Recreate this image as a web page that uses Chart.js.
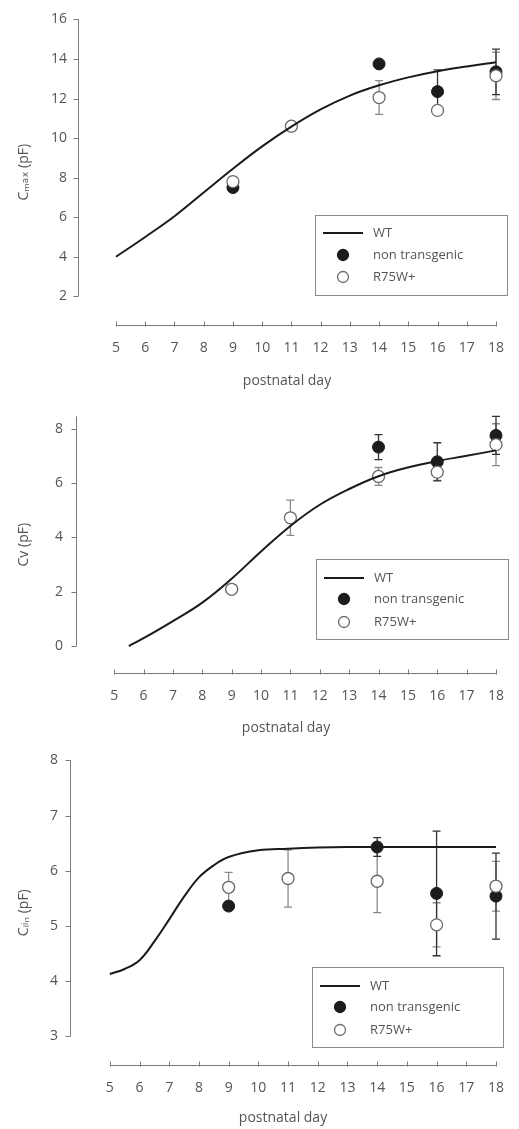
<!DOCTYPE html>
<html><head><meta charset="utf-8">
<script src="https://cdn.jsdelivr.net/npm/chart.js@4.4.0/dist/chart.umd.min.js"></script>
<style>
html,body{margin:0;padding:0;background:#fff;width:519px;height:1129px;overflow:hidden}
.p{position:absolute;left:0;width:519px}
canvas{display:block}
</style></head><body>
<div class="p" style="top:0"><canvas id="c1" width="519" height="395"></canvas></div>
<div class="p" style="top:395px"><canvas id="c2" width="519" height="345"></canvas></div>
<div class="p" style="top:740px"><canvas id="c3" width="519" height="389"></canvas></div>
<script>
// ---------- data ----------
const dayTicks = [5,6,7,8,9,10,11,12,13,14,15,16,17,18];
const cmaxTicks = [2,4,6,8,10,12,14,16];
const cvTicks = [0,2,4,6,8];
const clinTicks = [3,4,5,6,7,8];
const legendLabels = ['WT','non transgenic','R75W+'];
const xTitle = 'postnatal day';

// Panel 1: Cmax
const cmaxWtDays = [5,6,7,8,9,10,11,12,13,14,15,16,17,18];
const cmaxWt     = [4.0,5.0,6.05,7.25,8.45,9.58,10.58,11.45,12.15,12.67,13.07,13.38,13.62,13.83];
const cmaxNtDays = [9,14,16,18];
const cmaxNt     = [7.5,13.75,12.35,13.35];
const cmaxNtErr  = [0.1,0.15,1.1,1.15];
const cmaxRDays  = [9,11,14,16,18];
const cmaxR      = [7.8,10.6,12.05,11.4,13.15];
const cmaxRErr   = [0.25,0.1,0.85,0.15,1.2];

// Panel 2: Cv
const cvWtDays = [5.5,6,7,8,9,10,11,12,13,14,15,16,17,18];
const cvWt     = [0,0.29,0.92,1.6,2.48,3.48,4.42,5.2,5.78,6.25,6.57,6.81,7.0,7.2];
const cvNtDays = [14,16,18];
const cvNt     = [7.32,6.78,7.75];
const cvNtErr  = [0.46,0.7,0.7];
const cvRDays  = [9,11,14,16,18];
const cvR      = [2.09,4.72,6.24,6.4,7.41];
const cvRErr   = [0.12,0.65,0.33,0.3,0.77];

// Panel 3: Clin
const clinWtDays = [5,5.5,6,6.5,7,7.5,8,8.5,9,10,11,12,13,14,15,16,17,18];
const clinWt     = [4.13,4.22,4.38,4.72,5.12,5.53,5.88,6.1,6.25,6.37,6.4,6.42,6.43,6.43,6.43,6.43,6.43,6.43];
const clinNtDays = [9,14,16,18];
const clinNt     = [5.36,6.43,5.59,5.54];
const clinNtErr  = [0.05,0.17,1.13,0.78];
const clinRDays  = [9,11,14,16,18];
const clinR      = [5.7,5.86,5.81,5.02,5.72];
const clinRErr   = [0.27,0.52,0.57,0.4,0.45];

// ---------- styling ----------
const FONT = "'Open Sans', 'DejaVu Sans', sans-serif";
const TXT = '#555';
const AXC = '#7a7a7a';

const pairs = (xs, ys) => xs.map((x, i) => ({x, y: ys[i]}));

const decor = {
  id: 'decor',
  beforeDatasetsDraw(chart, args, o) {
    const ctx = chart.ctx, xs = chart.scales.x, ys = chart.scales.y, ca = chart.chartArea;
    ctx.save();
    ctx.strokeStyle = AXC; ctx.lineWidth = 1;
    const lx = Math.round(ca.left) + 0.5;
    ctx.beginPath();
    ctx.moveTo(lx, ys.getPixelForValue(o.yLineFrom));
    ctx.lineTo(lx, ys.getPixelForValue(o.yLineTo));
    o.yTicks.forEach(v => { const p = Math.round(ys.getPixelForValue(v)) + 0.5; ctx.moveTo(lx - 5, p); ctx.lineTo(lx, p); });
    ctx.stroke();
    const by = Math.round(ca.bottom) + 0.5;
    ctx.beginPath();
    ctx.moveTo(xs.getPixelForValue(dayTicks[0]), by);
    ctx.lineTo(xs.getPixelForValue(dayTicks[dayTicks.length - 1]), by);
    dayTicks.forEach(v => { const p = Math.round(xs.getPixelForValue(v)) + 0.5; ctx.moveTo(p, by - 4); ctx.lineTo(p, by + 1); });
    ctx.stroke();
    chart.data.datasets.forEach(ds => {
      if (!ds.errors) return;
      ctx.strokeStyle = ds.errColor; ctx.lineWidth = 1.3;
      ds.data.forEach((pt, i) => {
        const e = ds.errors[i];
        const px = xs.getPixelForValue(pt.x);
        const y1 = ys.getPixelForValue(pt.y - e), y2 = ys.getPixelForValue(pt.y + e);
        ctx.beginPath();
        ctx.moveTo(px, y1); ctx.lineTo(px, y2);
        ctx.moveTo(px - 4, y1); ctx.lineTo(px + 4, y1);
        ctx.moveTo(px - 4, y2); ctx.lineTo(px + 4, y2);
        ctx.stroke();
      });
    });
    ctx.restore();
  },
  afterDraw(chart, args, o) {
    const ctx = chart.ctx, L = o.legend;
    const ds = chart.data.datasets;
    ctx.save();
    ctx.strokeStyle = '#8a8a8a'; ctx.lineWidth = 1;
    ctx.strokeRect(L.x + 0.5, L.y + 0.5, L.w, L.h);
    ctx.font = '13px ' + FONT; ctx.fillStyle = TXT; ctx.textBaseline = 'middle';
    ctx.strokeStyle = ds[0].borderColor; ctx.lineWidth = 2;
    ctx.beginPath(); ctx.moveTo(L.x + 8, L.y + L.rows[0]); ctx.lineTo(L.x + 48, L.y + L.rows[0]); ctx.stroke();
    ctx.fillText(ds[0].label, L.x + 58, L.y + L.rows[0]);
    for (let k = 1; k <= 2; k++) {
      const d = ds[k === 1 ? 2 : 1];
      const cy = L.y + L.rows[k];
      ctx.beginPath(); ctx.arc(L.x + 28, cy, 5.5, 0, Math.PI * 2);
      ctx.fillStyle = d.backgroundColor; ctx.fill();
      ctx.strokeStyle = d.borderColor; ctx.lineWidth = 1.3; ctx.stroke();
      ctx.fillStyle = TXT;
      ctx.fillText(d.label, L.x + 58, cy);
    }
    ctx.restore();
  }
};

function makeChart(id, cfg) {
  return new Chart(document.getElementById(id), {
    type: 'scatter',
    data: {
      datasets: [
        { type: 'line', label: legendLabels[0], data: pairs(cfg.wtDays, cfg.wt), borderColor: '#1a1a1a', borderWidth: 2,
          pointRadius: 0, tension: 0.4, fill: false, clip: false },
        { label: legendLabels[2], data: pairs(cfg.rDays, cfg.r), errors: cfg.rErr, errColor: '#8a8a8a',
          backgroundColor: '#ffffff', borderColor: '#6a6a6a', borderWidth: 1.3, pointRadius: 6, clip: false },
        { label: legendLabels[1], data: pairs(cfg.ntDays, cfg.nt), errors: cfg.ntErr, errColor: '#333',
          backgroundColor: '#1c1c1c', borderColor: '#1c1c1c', borderWidth: 1, pointRadius: 6, clip: false }
      ]
    },
    options: {
      responsive: false, animation: false, devicePixelRatio: 1,
      layout: { padding: { left: 0, top: cfg.top, right: 519 - cfg.right, bottom: 0 } },
      plugins: { legend: { display: false }, tooltip: { enabled: false }, decor: cfg.decor },
      scales: {
        x: {
          type: 'linear', min: cfg.xmin, max: 18,
          afterBuildTicks: s => { s.ticks = dayTicks.map(v => ({ value: v })); },
          afterFit: s => { s.height = cfg.xH; },
          grid: { display: false, drawTicks: false }, border: { display: false },
          ticks: { color: TXT, font: { family: FONT, size: 14 }, padding: 15, autoSkip: false, maxRotation: 0 },
          title: { display: true, text: xTitle, color: TXT, font: { family: FONT, size: 14 }, padding: { top: 0, bottom: cfg.xTitlePad } }
        },
        y: {
          type: 'linear', min: cfg.ymin, max: cfg.ymax,
          afterBuildTicks: s => { s.ticks = cfg.yTicks.map(v => ({ value: v })); },
          afterFit: s => { s.width = cfg.left; },
          grid: { display: false, drawTicks: false }, border: { display: false },
          ticks: { color: TXT, font: { family: FONT, size: 14 }, padding: cfg.yTickPad },
          title: { display: true, text: cfg.yTitle, color: TXT, font: { family: FONT, size: 14 }, padding: { top: 16, bottom: 0 } }
        }
      }
    },
    plugins: [decor]
  });
}

makeChart('c1', {
  wtDays: cmaxWtDays, wt: cmaxWt, ntDays: cmaxNtDays, nt: cmaxNt, ntErr: cmaxNtErr, rDays: cmaxRDays, r: cmaxR, rErr: cmaxRErr,
  top: 16, right: 507, left: 78, xH: 70, xmin: 3.7, ymin: 0.55, ymax: 16, yTicks: cmaxTicks, yTickPad: 11, xTitlePad: 5.6,
  yTitle: 'C\u2098\u2090\u2093 (pF)',
  decor: { yLineFrom: 2, yLineTo: 16, yTicks: cmaxTicks, legend: { x: 315, y: 215, w: 192, h: 80, rows: [18, 40, 62] } }
});
makeChart('c2', {
  wtDays: cvWtDays, wt: cvWt, ntDays: cvNtDays, nt: cvNt, ntErr: cvNtErr, rDays: cvRDays, r: cvR, rErr: cvRErr,
  top: 11, right: 504, left: 76, xH: 67, xmin: 3.7, ymin: -0.99, ymax: 8.45, yTicks: cvTicks, yTickPad: 13, xTitlePad: 3.6,
  yTitle: 'Cv (pF)',
  decor: { yLineFrom: 0, yLineTo: 8.45, yTicks: cvTicks, legend: { x: 316, y: 164, w: 192, h: 80, rows: [19, 40, 63] } }
});
makeChart('c3', {
  wtDays: clinWtDays, wt: clinWt, ntDays: clinNtDays, nt: clinNt, ntErr: clinNtErr, rDays: clinRDays, r: clinR, rErr: clinRErr,
  top: 15, right: 499, left: 70, xH: 64, xmin: 3.66, ymin: 2.48, ymax: 8, yTicks: clinTicks, yTickPad: 12, xTitlePad: 2.6,
  yTitle: 'C\u2097\u1d62\u2099 (pF)',
  decor: { yLineFrom: 3, yLineTo: 8, yTicks: clinTicks, legend: { x: 312, y: 227, w: 191, h: 80, rows: [19, 40, 63] } }
});
</script>
</body></html>
